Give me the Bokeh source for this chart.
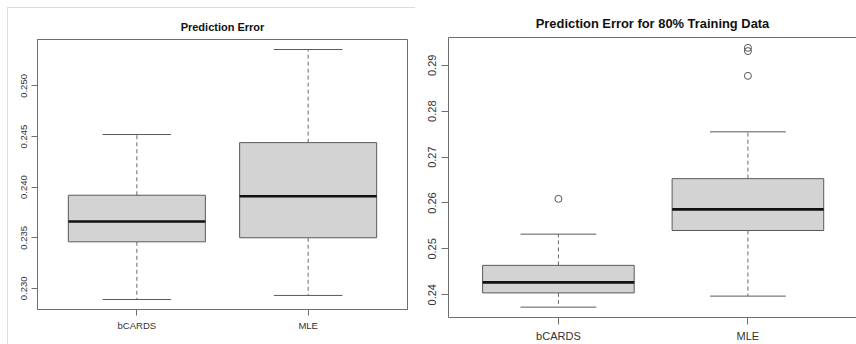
from bokeh.plotting import figure
from bokeh.layouts import row
from bokeh.models import FixedTicker, LinearAxis, Range1d
from bokeh.embed import file_html
from bokeh.resources import INLINE

# ---- data ----
categories = ["bCARDS", "MLE"]

# left panel: Prediction Error
left_lower = [0.2289, 0.2293]
left_q1 = [0.2346, 0.2350]
left_median = [0.2366, 0.2391]
left_q3 = [0.2392, 0.2444]
left_upper = [0.2452, 0.2536]
left_out_cat = []
left_out_val = []
left_ticks = [0.230, 0.235, 0.240, 0.245, 0.250]
left_tick_labels = ["0.230", "0.235", "0.240", "0.245", "0.250"]

# right panel: Prediction Error for 80% Training Data
right_lower = [0.2373, 0.2397]
right_q1 = [0.2404, 0.2540]
right_median = [0.2427, 0.2586]
right_q3 = [0.2464, 0.2653]
right_upper = [0.2532, 0.2755]
right_out_cat = ["bCARDS", "MLE", "MLE", "MLE"]
right_out_val = [0.2609, 0.2938, 0.2931, 0.2877]
right_ticks = [0.24, 0.25, 0.26, 0.27, 0.28, 0.29]
right_tick_labels = ["0.24", "0.25", "0.26", "0.27", "0.28", "0.29"]

FONT = "Liberation Sans"
FRAME = "#6e6e6e"
BOXLINE = "#5a5a5a"
WHISK = "#6a6a6a"


def panel(title, lower, q1, med, q3, upper, out_cat, out_val, ticks, tick_labels,
          width, mbl, mbr, mbt, mbb, x_end, tick_fs, title_fs,
          tick_len, lab_standoff, full_outline, styles=None):
    pos = [i + 1 for i in range(len(categories))]
    allv = lower + upper + out_val
    lo, hi = min(allv), max(allv)
    ext = 0.04 * (hi - lo)
    p = figure(width=width, height=344, output_backend="svg", toolbar_location=None,
               x_range=Range1d(0.42, x_end), y_range=Range1d(lo - ext, hi + ext),
               min_border_left=mbl, min_border_right=mbr,
               min_border_top=mbt, min_border_bottom=mbb,
               background_fill_color="white",
               border_fill_color=None if styles else "white",
               frame_align=False,
               styles=styles or {})
    p.grid.visible = False
    if full_outline:
        p.outline_line_color = FRAME
        p.outline_line_width = 1
    else:
        p.outline_line_color = None
        top = LinearAxis(ticker=FixedTicker(ticks=[]), major_tick_out=0, major_tick_in=0,
                         minor_tick_out=0, minor_tick_in=0, major_label_standoff=0,
                         major_tick_line_color=None, minor_tick_line_color=None,
                         axis_line_color=FRAME, major_label_text_font_size="0px")
        p.add_layout(top, "above")

    # title
    p.title.text = title
    p.title.align = "center"
    p.title.vertical_align = "top"
    p.title.text_font = FONT
    p.title.text_font_size = f"{title_fs}px"
    p.title.text_font_style = "bold"
    p.title.text_color = "#111111"

    # axes
    xa = p.below[0]
    ya = p.left[0]
    xa.ticker = FixedTicker(ticks=pos)
    xa.major_label_overrides = {pv: c for pv, c in zip(pos, categories)}
    ya.ticker = FixedTicker(ticks=ticks)
    ya.major_label_overrides = {t: l for t, l in zip(ticks, tick_labels)}
    ya.major_label_orientation = "vertical"
    for ax in (xa, ya):
        ax.axis_line_color = FRAME
        ax.major_tick_line_color = FRAME
        ax.major_tick_out = tick_len
        ax.major_tick_in = 0
        ax.minor_tick_line_color = None
        ax.major_label_text_font = FONT
        ax.major_label_text_font_size = f"{tick_fs}px"
        ax.major_label_text_color = "#333333"
        ax.major_label_standoff = lab_standoff

    # whiskers (dashed)
    p.segment(x0=pos, x1=pos, y0=q3, y1=upper, line_color=WHISK, line_dash="4 3", line_width=1)
    p.segment(x0=pos, x1=pos, y0=q1, y1=lower, line_color=WHISK, line_dash="4 3", line_width=1)
    # caps
    p.segment(x0=[x - 0.2 for x in pos], x1=[x + 0.2 for x in pos], y0=upper, y1=upper,
              line_color=BOXLINE, line_width=1)
    p.segment(x0=[x - 0.2 for x in pos], x1=[x + 0.2 for x in pos], y0=lower, y1=lower,
              line_color=BOXLINE, line_width=1)
    # boxes
    p.vbar(x=pos, width=0.8, top=q3, bottom=q1, fill_color="#d3d3d3",
           line_color=BOXLINE, line_width=1)
    # medians
    p.segment(x0=[x - 0.4 for x in pos], x1=[x + 0.4 for x in pos], y0=med, y1=med,
              line_color="#111111", line_width=2.6)
    # outliers
    if out_val:
        ox = [categories.index(c) + 1 for c in out_cat]
        p.scatter(x=ox, y=out_val, marker="circle", size=7, fill_color=None,
                  line_color="#555555", line_width=1)
    return p


deco = {"background": "linear-gradient(#dddddd,#dddddd) 7px 7px / 408px 1px no-repeat, "
                      "linear-gradient(#dddddd,#dddddd) 7px 7px / 1px 337px no-repeat, white"}

p1 = panel("Prediction Error", left_lower, left_q1, left_median, left_q3, left_upper,
           left_out_cat, left_out_val, left_ticks, left_tick_labels,
           width=418, mbl=37, mbr=11, mbt=39, mbb=35, x_end=2.58,
           tick_fs=9.5, title_fs=11, tick_len=6, lab_standoff=4,
           full_outline=True, styles=deco)

p2 = panel("Prediction Error for 80% Training Data", right_lower, right_q1, right_median,
           right_q3, right_upper, right_out_cat, right_out_val, right_ticks, right_tick_labels,
           width=438, mbl=30, mbr=0, mbt=37, mbb=26, x_end=2.573,
           tick_fs=11, title_fs=12.9, tick_len=7, lab_standoff=5,
           full_outline=False)

layout = row(p1, p2, spacing=0)
p = layout
open("out.html", "w").write(file_html(p, INLINE))
